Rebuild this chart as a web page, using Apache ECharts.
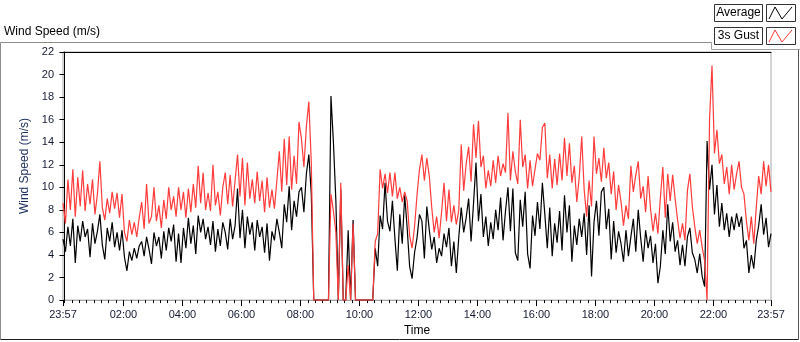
<!DOCTYPE html>
<html>
<head>
<meta charset="utf-8">
<script src="https://cdn.jsdelivr.net/npm/echarts@6/dist/echarts.min.js"></script>
<style>
  html, body { margin: 0; padding: 0; background: #fff; }
  #chart { width: 800px; height: 342px; }
</style>
</head>
<body>
<div id="chart"></div>
<script>
  // samples every 5 minutes, starting 23:57 (= -3 minutes)
  var startMinute = -3
  var stepMinutes = 5

  var seriesNames = ['Average', '3s Gust']

  var average = [
    5.4, 4.3, 6.5, 4.8, 7.2, 3.3, 6.6, 5.2, 7.0, 5.6, 6.3, 3.8,
    6.8, 5.0, 6.1, 7.6, 4.9, 3.6, 6.4, 5.2, 6.9, 4.7, 6.0, 4.4,
    6.2, 3.8, 2.6, 4.3, 3.5, 4.6, 3.7, 4.8, 5.2, 3.9, 5.6, 4.5,
    3.2, 6.0, 4.8, 5.6, 3.7, 6.1, 4.4, 6.4, 5.2, 6.7, 3.4, 5.9,
    3.3, 6.4, 4.6, 7.3, 5.0, 6.6, 4.1, 7.5, 6.0, 7.2, 5.4, 6.5,
    4.9, 7.0, 4.3, 6.3, 4.8, 6.9, 6.0, 4.5, 7.2, 5.4, 6.6, 9.9,
    5.5, 8.0, 4.6, 7.4, 5.8, 6.9, 4.4, 7.1, 5.6, 6.5, 4.2, 6.8,
    3.5, 6.1, 5.3, 7.2, 6.0, 4.6, 8.5, 6.9, 10.1, 6.2, 8.8, 7.4,
    9.6, 10.0, 7.8, 11.2, 12.9, 9.4,
    0, 0, 0, 0, 0, 0, 0,
    18.1, 14.0, 8.8, 0, 9.8, 0, 0, 6.2, 0, 7.1, 0,
    0, 0, 0, 0, 0, 0, 0,
    4.6, 3.0, 7.5, 6.3, 10.4, 7.0, 6.1, 8.8, 5.5, 2.6, 7.6, 5.0, 9.3, 6.4, 3.0, 1.9, 4.2, 5.5, 7.6,
    7.0, 3.7, 8.3, 6.2, 4.5, 5.6, 3.3, 4.6, 3.9, 5.9, 4.7, 6.4, 3.0, 5.2, 2.4, 5.6,
    8.2, 6.0, 7.3, 9.0, 5.2, 8.6, 12.2, 7.0, 9.4, 5.6, 7.4, 4.8, 6.9, 5.4, 8.0, 6.2,
    9.1, 5.3, 7.9, 10.0, 6.1, 9.9, 4.2, 3.5, 8.9, 6.5, 9.6, 4.1, 2.8, 7.5, 5.7, 8.7,
    6.3, 10.4, 7.6, 4.6, 8.2, 3.9, 6.8, 5.1, 7.9, 4.4, 9.3, 6.0, 8.4, 3.4, 6.6, 4.9,
    7.2, 5.6, 7.7, 4.0, 8.4, 2.1, 6.9, 8.8, 5.7, 9.6, 10.0, 6.3, 8.1, 3.6, 7.0, 4.2,
    6.1, 5.0, 3.4, 6.2, 3.9, 5.6, 7.2, 4.3, 8.0, 5.5, 3.4, 6.2, 4.6, 5.7, 3.3, 5.0, 1.5,
    3.0, 6.2, 4.1, 8.5, 5.2, 6.9, 4.3, 5.3, 3.1, 4.9, 3.0, 5.6, 6.4, 4.2, 3.6, 2.4,
    4.1, 2.1, 1.2, 14.1, 9.8, 12.0, 7.6, 10.2, 6.5, 8.6, 6.2, 7.7, 5.6, 7.4, 6.2, 7.7,
    6.5, 7.4, 4.6, 5.3, 2.4, 4.0, 2.8, 5.3, 6.6, 8.5, 5.8, 7.3, 4.7, 5.9
  ]

  var gust = [
    8.6, 6.8, 10.7, 8.0, 11.6, 7.4, 10.9, 8.3, 11.5, 7.9, 10.3, 8.5,
    10.7, 7.6, 9.4, 12.3, 8.2, 7.1, 9.0, 7.7, 9.6, 8.1, 9.5, 7.3,
    9.4, 6.0, 5.2, 7.1, 5.8, 6.9, 5.6, 7.3, 8.7, 6.3, 10.3, 6.8,
    7.4, 10.0, 7.0, 8.4, 6.4, 8.9, 7.2, 10.0, 8.0, 9.2, 7.4, 10.0,
    8.0, 9.6, 7.3, 9.9, 7.8, 10.3, 8.2, 11.9, 8.6, 11.3, 8.0, 9.5,
    7.9, 12.0, 8.4, 9.6, 7.5, 10.0, 11.3, 8.5, 11.1, 8.3, 10.6, 12.9,
    9.2, 12.6, 8.4, 12.2, 9.0, 10.7, 8.6, 11.4, 8.8, 10.6, 7.8, 10.9,
    8.2, 9.8, 8.1, 10.6, 13.2, 9.6, 14.3, 10.2, 14.5, 9.8, 12.8, 10.3,
    15.8, 14.3, 11.8, 15.4, 17.6, 12.2,
    0, 0, 0, 0, 0, 0, 0,
    9.4, 7.9, 6.0, 0, 10.4, 0, 0, 3.1, 0, 6.8, 0,
    0, 0, 0, 0, 0, 0, 0,
    5.2, 5.9, 11.6, 9.9, 11.2, 9.5, 11.3, 9.2, 11.3, 9.0, 10.0, 8.7, 9.6, 8.8, 5.7, 4.6, 6.5, 9.3, 11.6,
    12.9, 10.6, 12.6, 11.0, 8.2, 6.0, 7.4, 5.5, 7.8, 10.4, 7.0, 9.8, 6.9, 8.4, 6.7, 8.0,
    13.8, 9.7, 12.1, 13.6, 10.5, 15.6, 12.6, 15.9, 11.8, 12.8, 9.9, 11.5, 10.1, 12.4, 10.4, 12.8,
    11.0, 12.1, 11.3, 16.6, 10.6, 13.2, 11.4, 10.3, 16.0, 11.8, 12.9, 9.9, 12.4, 10.1, 11.6, 13.0,
    12.4, 15.3, 15.7, 10.8, 12.9, 9.9, 12.5, 10.2, 13.0, 10.6, 14.4, 11.0, 13.9, 10.4, 11.9, 8.7,
    10.9, 14.5, 9.8, 7.4, 10.6, 8.3, 14.5, 11.2, 12.6, 10.5, 13.5, 10.8, 12.2, 9.4, 11.4, 8.0,
    10.2, 8.7, 6.6, 8.4, 7.2, 11.9, 9.6, 11.1, 12.3, 9.0, 10.1, 7.8, 11.0, 8.1, 6.1, 7.7, 5.9,
    9.1, 11.8, 7.3, 11.2, 8.8, 11.1, 9.0, 7.1, 5.5, 6.8, 5.3, 9.7, 11.2, 8.3, 6.5, 5.0,
    6.2, 4.7, 3.5, 0, 16.0, 20.8, 13.0, 15.1, 12.1, 12.9, 10.3, 11.8, 9.4, 12.0, 9.8, 11.2,
    12.3, 10.0, 9.4, 7.0, 5.3, 7.4, 5.0, 8.2, 11.0, 9.4, 12.3, 10.1, 12.0, 9.6
  ]

  // axis marks (minutes, -3 = 23:57 of previous day)
  var xMin = -3
  var xMax = 1437
  var labelMinutes = [-3, 120, 240, 360, 480, 600, 720, 840, 960, 1080, 1200, 1320, 1437]
  var minorTickMinutes = []
  for (var m = 0; m <= 1425; m += 15) {
    if (labelMinutes.indexOf(m) < 0) minorTickMinutes.push(m)
  }

  function toPairs(values) {
    return values.map(function (v, i) {
      return [startMinute + i * stepMinutes, v]
    })
  }

  function fmtTime(v) {
    var mm = ((Math.round(v) % 1440) + 1440) % 1440
    var h = Math.floor(mm / 60)
    var mi = mm % 60
    return (h < 10 ? '0' : '') + h + ':' + (mi < 10 ? '0' : '') + mi
  }

  var font = 'Liberation Sans'
  var axisText = '#141a33'

  var chart = echarts.init(document.getElementById('chart'), null, { renderer: 'canvas' })

  var option = {
    animation: false,
    backgroundColor: '#fff',
    textStyle: { fontFamily: font },
    grid: {
      left: 63,
      right: 29,
      top: 52,
      bottom: 40,
      show: true,
      borderColor: '#a8a8a8',
      borderWidth: 1,
      backgroundColor: '#fff',
    },
    xAxis: [
      {
        type: 'value',
        min: xMin,
        max: xMax,
        position: 'bottom',
        splitLine: { show: false },
        axisLine: { show: true, lineStyle: { color: '#a8a8a8', width: 1 } },
        axisTick: {
          show: true,
          customValues: labelMinutes,
          length: 6,
          lineStyle: { color: '#000' },
        },
        axisLabel: {
          customValues: labelMinutes,
          formatter: fmtTime,
          color: axisText,
          fontSize: 11,
          fontFamily: font,
          margin: 9,
        },
        name: 'Time',
        nameLocation: 'middle',
        nameGap: 24,
        nameTextStyle: { color: '#000', fontSize: 12, fontFamily: font },
      },
      {
        type: 'value',
        min: xMin,
        max: xMax,
        position: 'bottom',
        splitLine: { show: false },
        axisLine: { show: false },
        axisTick: {
          show: true,
          customValues: minorTickMinutes,
          length: 3,
          lineStyle: { color: '#000' },
        },
        axisLabel: { show: false },
      },
      {
        type: 'value',
        min: xMin,
        max: xMax,
        position: 'top',
        splitLine: { show: false },
        axisLine: { show: true, lineStyle: { color: '#000', width: 1 } },
        axisTick: { show: false },
        axisLabel: { show: false },
      },
    ],
    yAxis: {
      type: 'value',
      min: 0,
      max: 22,
      interval: 2,
      splitLine: { show: false },
      axisLine: { show: true, lineStyle: { color: '#000', width: 1 } },
      axisTick: { show: true, length: 5, lineStyle: { color: '#000' } },
      axisLabel: { color: axisText, fontSize: 11, fontFamily: font, margin: 9 },
      name: 'Wind Speed (m/s)',
      nameLocation: 'middle',
      nameGap: 26,
      nameTextStyle: { color: '#1b2f5c', fontSize: 12, fontFamily: font, padding: [0, 0, 0, 20] },
    },
    series: [
      {
        name: seriesNames[0],
        type: 'line',
        xAxisIndex: 0,
        showSymbol: false,
        symbol: 'none',
        lineStyle: { color: '#000', width: 1.2 },
        data: toPairs(average),
      },
      {
        name: seriesNames[1],
        type: 'line',
        xAxisIndex: 0,
        showSymbol: false,
        symbol: 'none',
        lineStyle: { color: '#ff3c3c', width: 1.2 },
        data: toPairs(gust),
      },
    ],
    graphic: [
      // outer frame
      { type: 'line', shape: { x1: 0.5, y1: 42.5, x2: 711.5, y2: 42.5 }, style: { stroke: '#8c8c8c', lineWidth: 1 } },
      { type: 'line', shape: { x1: 0.5, y1: 42.5, x2: 0.5, y2: 339.5 }, style: { stroke: '#8c8c8c', lineWidth: 1 } },
      { type: 'line', shape: { x1: 0.5, y1: 339.5, x2: 798.5, y2: 339.5 }, style: { stroke: '#222', lineWidth: 1 } },
      { type: 'line', shape: { x1: 798.5, y1: 49.5, x2: 798.5, y2: 339.5 }, style: { stroke: '#555', lineWidth: 1 } },
      // legend panel edges
      { type: 'line', shape: { x1: 711.5, y1: 42.5, x2: 711.5, y2: 49.5 }, style: { stroke: '#a0a0a0', lineWidth: 1 } },
      { type: 'line', shape: { x1: 711.5, y1: 49.5, x2: 800, y2: 49.5 }, style: { stroke: '#a0a0a0', lineWidth: 1 } },
      // chart title
      {
        type: 'text',
        left: 4,
        top: 26,
        style: { text: 'Wind Speed (m/s)', fill: '#000', font: '12px "Liberation Sans"' },
      },
      // legend boxes
      { type: 'rect', shape: { x: 714.5, y: 4.5, width: 48, height: 17 }, style: { fill: '#fff', stroke: '#333', lineWidth: 1 } },
      { type: 'rect', shape: { x: 766.5, y: 4.5, width: 29, height: 17 }, style: { fill: '#fff', stroke: '#333', lineWidth: 1 } },
      { type: 'rect', shape: { x: 714.5, y: 27.5, width: 48, height: 17 }, style: { fill: '#fff', stroke: '#333', lineWidth: 1 } },
      { type: 'rect', shape: { x: 766.5, y: 27.5, width: 29, height: 17 }, style: { fill: '#fff', stroke: '#333', lineWidth: 1 } },
      {
        type: 'text',
        x: 738.5,
        y: 13,
        style: { text: seriesNames[0], fill: '#000', font: '12px "Liberation Sans"', align: 'center', verticalAlign: 'middle' },
      },
      {
        type: 'text',
        x: 738.5,
        y: 36,
        style: { text: seriesNames[1], fill: '#000', font: '12px "Liberation Sans"', align: 'center', verticalAlign: 'middle' },
      },
      {
        type: 'polyline',
        shape: { points: [[769, 19], [775, 7], [782, 19], [792, 7]] },
        style: { stroke: '#000', lineWidth: 1, fill: null },
      },
      {
        type: 'polyline',
        shape: { points: [[769, 42], [775, 30], [782, 42], [792, 30]] },
        style: { stroke: '#ff3c3c', lineWidth: 1, fill: null },
      },
    ],
  }

  chart.setOption(option)
  window.addEventListener('resize', function () {
    chart.resize()
  })
</script>
</body>
</html>
